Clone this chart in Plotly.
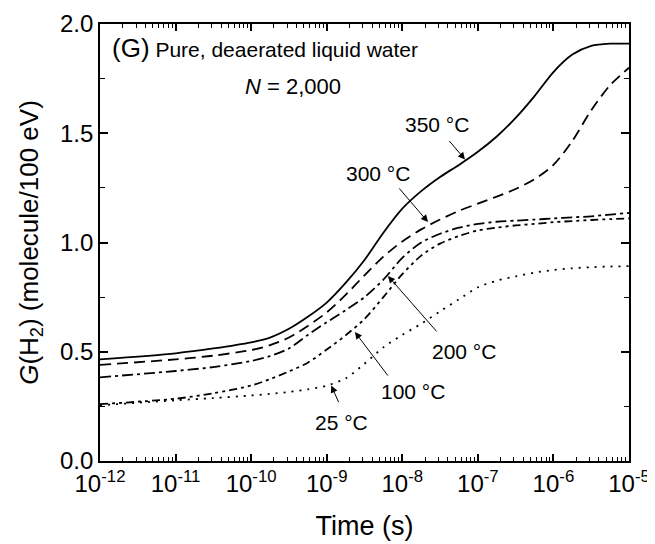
import plotly.graph_objects as go

# ---- data ----
log_time = [-12, -11, -10.5, -10, -9.75, -9.5, -9.25, -9, -8.75, -8.5, -8.25, -8,
            -7.75, -7.5, -7.25, -7, -6.75, -6.5, -6.25, -6, -5.75, -5.5, -5.25, -5]

g_350 = [0.465, 0.493, 0.515, 0.543, 0.565, 0.605, 0.66, 0.725, 0.815, 0.92, 1.045, 1.155,
         1.235, 1.30, 1.355, 1.415, 1.485, 1.57, 1.67, 1.78, 1.86, 1.90, 1.91, 1.91]
g_300 = [0.44, 0.465, 0.482, 0.508, 0.53, 0.565, 0.618, 0.68, 0.76, 0.85, 0.935, 1.005,
         1.06, 1.105, 1.145, 1.178, 1.21, 1.245, 1.29, 1.355, 1.465, 1.605, 1.72, 1.80]
g_200 = [0.383, 0.412, 0.43, 0.458, 0.48, 0.515, 0.577, 0.635, 0.69, 0.75, 0.83, 0.93,
         1.0, 1.04, 1.068, 1.085, 1.095, 1.10, 1.105, 1.11, 1.115, 1.12, 1.128, 1.135]
g_100 = [0.26, 0.285, 0.31, 0.345, 0.375, 0.41, 0.45, 0.51, 0.575, 0.65, 0.75, 0.855,
         0.94, 0.995, 1.03, 1.055, 1.068, 1.078, 1.085, 1.093, 1.098, 1.103, 1.107, 1.11]
g_25 = [0.255, 0.278, 0.288, 0.30, 0.307, 0.316, 0.328, 0.345, 0.378, 0.445, 0.52, 0.577,
        0.628, 0.685, 0.74, 0.795, 0.825, 0.845, 0.862, 0.874, 0.882, 0.887, 0.89, 0.892]

series_names = ["350 °C", "300 °C", "200 °C", "100 °C", "25 °C"]
series_values = [g_350, g_300, g_200, g_100, g_25]
series_dash = ["solid", "11px,6px", "11px,4px,3px,4px", "8px,4px,3px,4px,3px,4px", "2px,6px"]

# label annotations: (log10 time of arrow tip, G at tip, arrow tail offset px)
label_tips = {
    "350 °C": (-7.17, 1.38, -17, -20),
    "300 °C": (-7.66, 1.094, -30, -35),
    "200 °C": (-8.19, 0.847, 50, 57),
    "100 °C": (-8.626, 0.59, 34, 45),
    "25 °C": (-8.94, 0.345, 8, 18),
}
label_text_pos = {
    "350 °C": (-7.54, 1.538),
    "300 °C": (-8.32, 1.318),
    "200 °C": (-7.18, 0.499),
    "100 °C": (-7.86, 0.316),
    "25 °C": (-8.80, 0.178),
}

x_tick_exps = [-12, -11, -10, -9, -8, -7, -6, -5]
y_ticks = [0.0, 0.5, 1.0, 1.5, 2.0]

time = [10 ** e for e in log_time]

FONT = "Arial, Liberation Sans, sans-serif"

fig = go.Figure()
for name, vals, dash in zip(series_names, series_values, series_dash):
    fig.add_trace(go.Scatter(
        x=time, y=vals, mode="lines", name=name,
        line=dict(color="black", width=1.8, dash=dash, shape="spline", smoothing=0.8),
        showlegend=False,
    ))

annotations = []
for name in series_names:
    tx, ty, ax, ay = label_tips[name]
    annotations.append(dict(
        x=tx, y=ty, xref="x", yref="y", text="", showarrow=True,
        ax=ax, ay=ay, arrowhead=2, arrowsize=1.4, arrowwidth=1, arrowcolor="black",
    ))
    lx, ly = label_text_pos[name]
    annotations.append(dict(
        x=lx, y=ly, xref="x", yref="y", text=name, showarrow=False,
        font=dict(family=FONT, size=21, color="black"),
    ))

annotations.append(dict(
    x=0.018, y=0.945, xref="paper", yref="paper", xanchor="left", yanchor="middle",
    text="<span style='font-size:26px'>(G)</span> Pure, deaerated liquid water",
    showarrow=False, font=dict(family=FONT, size=21, color="black"),
))
annotations.append(dict(
    x=0.365, y=0.856, xref="paper", yref="paper", xanchor="center", yanchor="middle",
    text="<i>N</i> = 2,000",
    showarrow=False, font=dict(family=FONT, size=22, color="black"),
))

minor_x = [m * 10 ** e for e in x_tick_exps[:-1] for m in range(2, 10)]

fig.update_layout(
    width=647, height=536,
    margin=dict(l=92, r=26, t=16, b=83),
    paper_bgcolor="white", plot_bgcolor="white",
    font=dict(family=FONT, size=24, color="black"),
    annotations=annotations,
    xaxis=dict(
        type="log", range=[-12, -5], automargin=False,
        tickmode="array",
        tickvals=[10 ** e for e in x_tick_exps],
        ticktext=["10<sup>%d</sup>" % e for e in x_tick_exps],
        ticks="inside", ticklen=7, tickwidth=1.5, tickcolor="black",
        minor=dict(tickmode="array", tickvals=minor_x, ticks="inside",
                   ticklen=4, tickwidth=1.2, tickcolor="black", showgrid=False),
        showline=True, linecolor="black", linewidth=1.8, mirror="ticks",
        showgrid=False, zeroline=False,
        title=dict(text="Time (s)", font=dict(size=27), standoff=20),
        tickfont=dict(size=24),
    ),
    yaxis=dict(
        range=[0, 2.0], automargin=False,
        tickmode="array", tickvals=y_ticks,
        ticktext=["%.1f" % v for v in y_ticks],
        ticks="inside", ticklen=8, tickwidth=1.5, tickcolor="black",
        minor=dict(dtick=0.25, ticks="inside", ticklen=5, tickwidth=1.2,
                   tickcolor="black", showgrid=False),
        showline=True, linecolor="black", linewidth=1.8, mirror="ticks",
        showgrid=False, zeroline=False,
        title=dict(text="<i>G</i>(H<sub>2</sub>) (molecule/100 eV)",
                   font=dict(size=26), standoff=14),
        tickfont=dict(size=24),
    ),
)

fig.write_html("out.html")
